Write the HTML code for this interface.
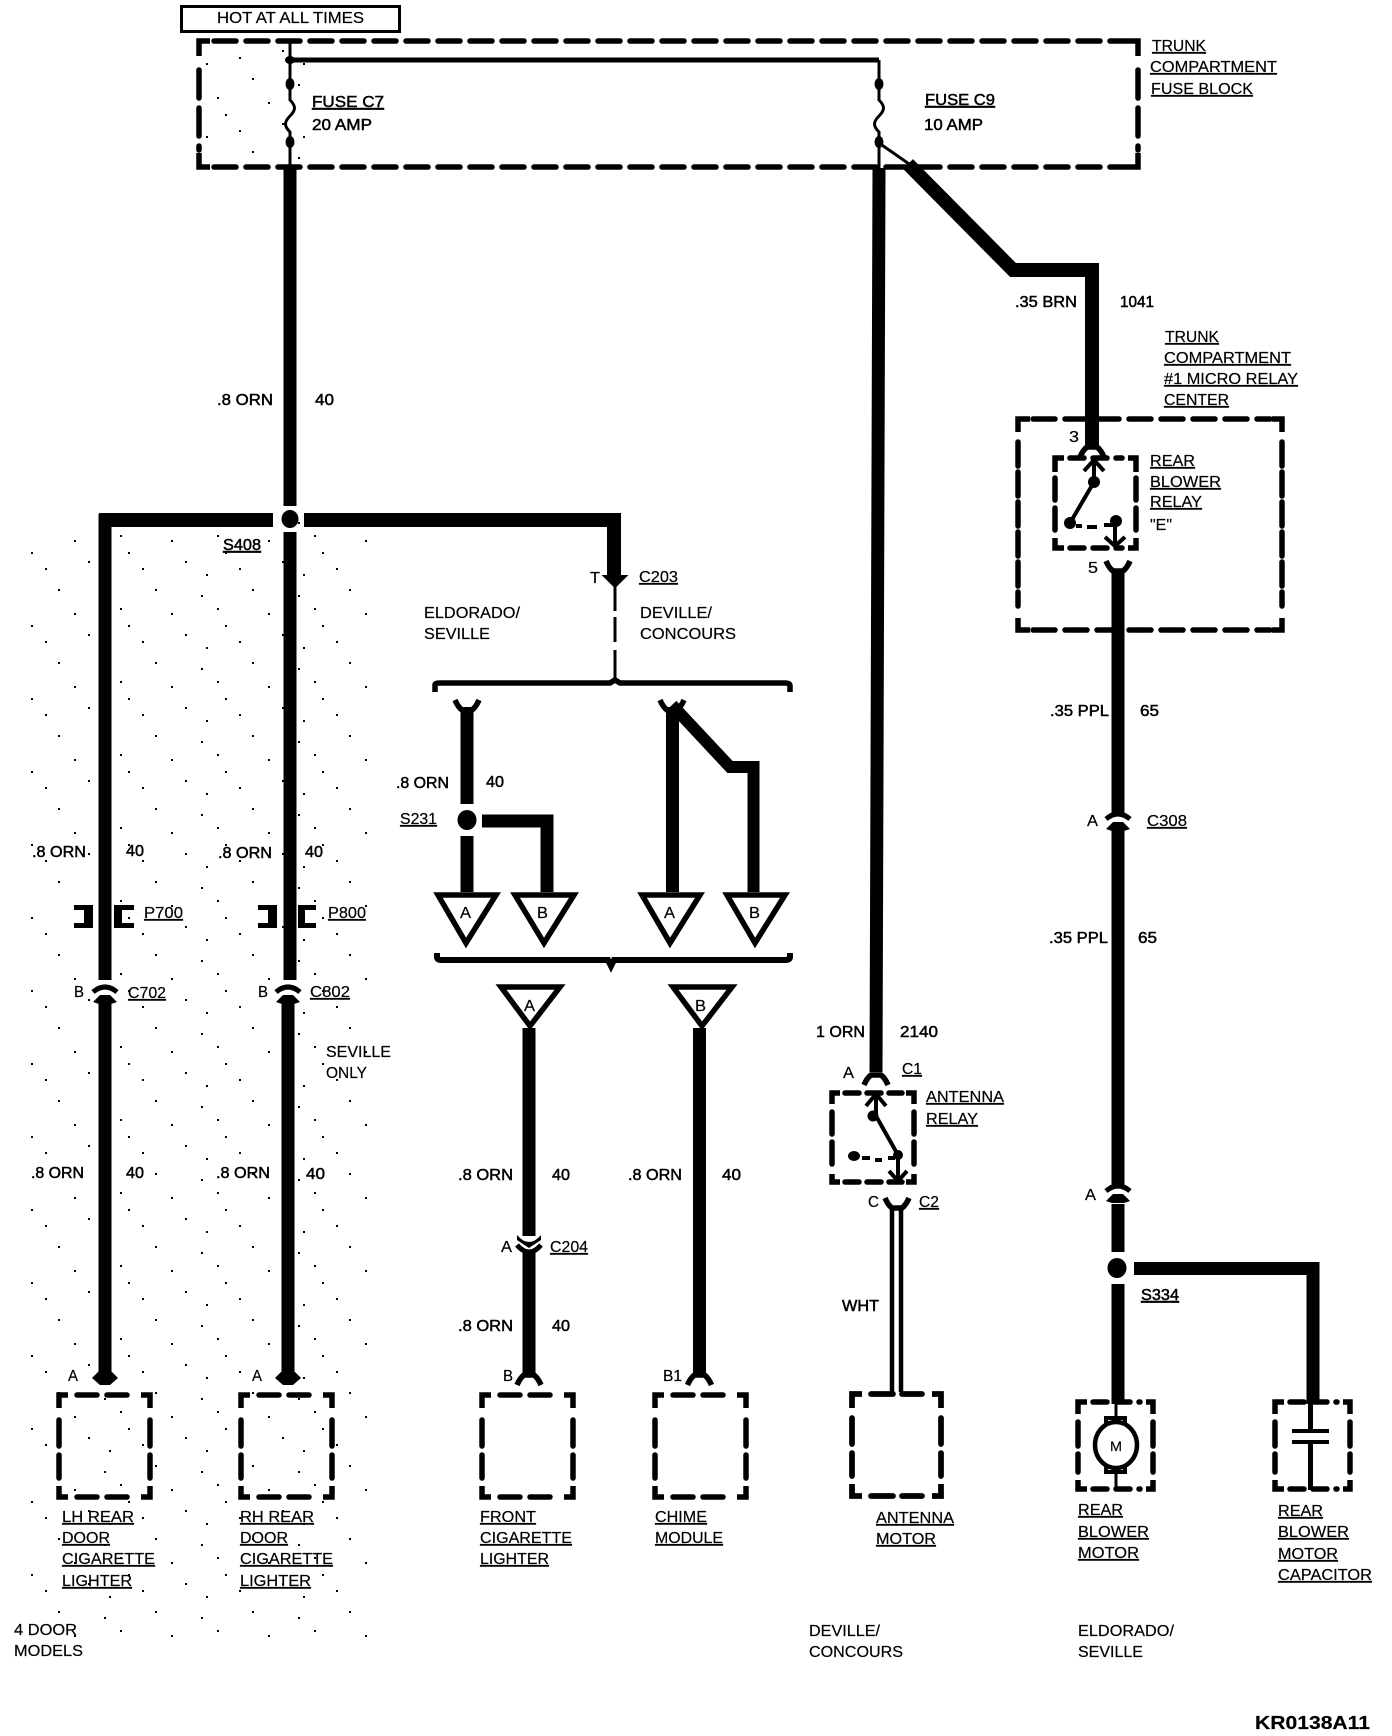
<!DOCTYPE html>
<html><head><meta charset="utf-8"><style>
html,body{margin:0;padding:0;background:#fff}
svg{display:block}
text{font-family:"Liberation Sans",sans-serif;font-size:16px;fill:#000;stroke:#000;stroke-width:.2px}
.u{text-decoration:underline}
.b{stroke:#000;stroke-width:.5px}
.w{fill:none;stroke:#000;stroke-width:13}
.n{fill:none;stroke:#000;stroke-width:3}
.d{fill:none;stroke:#000;stroke-width:5.500;stroke-dasharray:22 10;stroke-linecap:round}
.c{fill:none;stroke:#000;stroke-width:5.500}
.t{fill:#fff;stroke:#000;stroke-width:5.500;stroke-linejoin:miter}
</style></head><body>
<svg width="1392" height="1736" viewBox="0 0 1392 1736" xmlns="http://www.w3.org/2000/svg">
<defs>
<pattern id="sp" width="97" height="73" patternUnits="userSpaceOnUse"><path d="M7,11h2v2h-2z M31,41h2v2h-2z M58,5h2v2h-2z M74,29h2v2h-2z M12,63h2v2h-2z M45,57h2v2h-2z M88,50h2v2h-2z M23,24h2v2h-2z"/></pattern>
<path id="fd" d="M-12,7 Q-9,0 -5,-3 H5 Q9,0 12,7" fill="none" stroke="#000" stroke-width="5.500"/>
<path id="fu" d="M-12,-7 Q-9,0 -5,3 H5 Q9,0 12,-7" fill="none" stroke="#000" stroke-width="5.500"/>
<path id="ad" d="M-13,-1 L-6,-8 H6 L13,-1 L5,6 H-5 Z" fill="#000"/>
<g id="cu"><path d="M-12,-3 Q0,-13 12,-3" fill="none" stroke="#000" stroke-width="5"/><path d="M-12,7 L-5,0 H5 L12,7 L6,9 H-6 Z" fill="#000"/></g>
<g id="cv"><path d="M-12,-9 Q-6,-2 0,-2 Q6,-2 12,-9 L12,-4 L0,4 L-12,-4 Z" fill="#000"/><path d="M-12,1 Q-6,8 0,8 Q6,8 12,1" fill="none" stroke="#000" stroke-width="5"/></g>
</defs>
<rect width="1392" height="1736" fill="#fff"/>
<rect x="30" y="520" width="340" height="1120" fill="url(#sp)"/>
<rect x="205" y="46" width="110" height="115" fill="url(#sp)"/>

<!-- hot box -->
<rect x="181.500" y="6.500" width="218" height="25" fill="none" stroke="#000" stroke-width="3"/>
<text x="217" y="23" textLength="147" lengthAdjust="spacingAndGlyphs">HOT AT ALL TIMES</text>

<!-- wires -->
<path class="n" d="M290,41 V100 c6,6 6,10 0,16 c-6,6 -6,10 0,16 V168"/>
<path d="M290,60 H879" stroke="#000" stroke-width="5" fill="none"/>
<path class="n" d="M879,60 V100 c6,6 6,10 0,16 c-6,6 -6,10 0,16 V168"/>
<ellipse cx="290" cy="60" rx="5" ry="4"/><ellipse cx="290" cy="84" rx="4.500" ry="6"/><ellipse cx="290" cy="142" rx="4.500" ry="6"/>
<ellipse cx="879" cy="84" rx="4.500" ry="6"/><ellipse cx="879" cy="142" rx="4.500" ry="6"/>
<path class="n" d="M879,143 L912,166"/>
<path d="M908,164 L1013,270 H1092 V446" fill="none" stroke="#000" stroke-width="14" stroke-linejoin="miter"/>
<path class="w" d="M290,166 V506"/>
<path class="w" d="M290,532 V980 M288,1004 V1378"/>
<path class="w" d="M879,168 L876,1072"/>
<path class="w" style="stroke-width:14" d="M304,520 H614 V578"/>
<path class="w" style="stroke-width:14" d="M99,520 H273"/>
<path class="w" d="M105,514 V980 M105,1004 V1378"/>
<ellipse cx="290" cy="519" rx="8.500" ry="9"/>

<!-- fuse block -->
<path class="d" d="M214,41 H1125"/>
<path class="d" d="M214,167 H1125"/>
<path class="d" style="stroke-dasharray:28 10" d="M199,70 V150"/>
<path class="d" style="stroke-dasharray:28 10" d="M1138,70 V150"/>
<path class="c" d="M199,56 V41 H210 M1126,41 H1138 V56 M199,153 V167 H210 M1126,167 H1138 V153"/>
<text class="u" x="1152" y="51" textLength="54" lengthAdjust="spacingAndGlyphs">TRUNK</text>
<text class="u" x="1150" y="72" textLength="127" lengthAdjust="spacingAndGlyphs">COMPARTMENT</text>
<text class="u" x="1151" y="94" textLength="102" lengthAdjust="spacingAndGlyphs">FUSE BLOCK</text>
<text class="u b" x="312" y="107" textLength="72" lengthAdjust="spacingAndGlyphs">FUSE C7</text>
<text class="b" x="312" y="130" textLength="60" lengthAdjust="spacingAndGlyphs">20 AMP</text>
<text class="u b" x="925" y="105" textLength="70" lengthAdjust="spacingAndGlyphs">FUSE C9</text>
<text class="b" x="924" y="130" textLength="59" lengthAdjust="spacingAndGlyphs">10 AMP</text>

<text class="b" x="1015" y="307" textLength="62" lengthAdjust="spacingAndGlyphs">.35 BRN</text>
<text class="b" x="1120" y="307" textLength="34" lengthAdjust="spacingAndGlyphs">1041</text>
<text class="u" x="1165" y="342" textLength="54" lengthAdjust="spacingAndGlyphs">TRUNK</text>
<text class="u" x="1164" y="363" textLength="127" lengthAdjust="spacingAndGlyphs">COMPARTMENT</text>
<text class="u" x="1164" y="384" textLength="134" lengthAdjust="spacingAndGlyphs">#1 MICRO RELAY</text>
<text class="u" x="1164" y="405" textLength="65" lengthAdjust="spacingAndGlyphs">CENTER</text>
<text class="b" x="217" y="405" textLength="56" lengthAdjust="spacingAndGlyphs">.8 ORN</text>
<text class="b" x="315" y="405" textLength="19" lengthAdjust="spacingAndGlyphs">40</text>
<text class="u b" x="223" y="550" textLength="38" lengthAdjust="spacingAndGlyphs">S408</text>

<!-- micro relay center -->
<path class="d" d="M1033,419 H1270"/>
<path class="d" d="M1033,630 H1270"/>
<path class="d" style="stroke-dasharray:24 6" d="M1018,442 V606"/>
<path class="d" style="stroke-dasharray:24 6" d="M1282,442 V606"/>
<path class="c" d="M1018,432 V419 H1030 M1272,419 H1282 V432 M1018,618 V630 H1030 M1272,630 H1282 V618"/>
<use href="#fd" x="1092" y="450"/>
<text x="1069" y="442" textLength="10" lengthAdjust="spacingAndGlyphs">3</text>
<path class="d" style="stroke-dasharray:14 9" d="M1070,458 H1122"/>
<path class="d" style="stroke-dasharray:14 9" d="M1070,548 H1122"/>
<path class="d" style="stroke-dasharray:22 8" d="M1055,478 V530"/>
<path class="d" style="stroke-dasharray:22 8" d="M1136,478 V530"/>
<path class="c" d="M1055,472 V458 H1064 M1128,458 H1136 V472 M1055,538 V548 H1064 M1128,548 H1136 V538"/>
<path class="c" style="stroke-width:4" d="M1094,480 V460 M1084,471 L1094,460 L1104,471 M1094,482 L1070,523"/>
<circle cx="1094" cy="482" r="6"/><circle cx="1070" cy="523" r="6"/>
<path class="c" style="stroke-width:4" d="M1076,526 H1082 M1087,527 H1097 M1104,525 H1116"/>
<circle cx="1116" cy="521" r="6"/>
<path class="c" style="stroke-width:4" d="M1115,526 V546 M1105,537 L1115,546 L1125,537"/>
<text class="u" x="1150" y="466" textLength="45" lengthAdjust="spacingAndGlyphs">REAR</text>
<text class="u" x="1150" y="487" textLength="71" lengthAdjust="spacingAndGlyphs">BLOWER</text>
<text class="u" x="1150" y="507" textLength="52" lengthAdjust="spacingAndGlyphs">RELAY</text>
<text x="1150" y="530" textLength="22" lengthAdjust="spacingAndGlyphs">"E"</text>
<text x="1088" y="573" textLength="10" lengthAdjust="spacingAndGlyphs">5</text>
<use href="#fu" x="1118" y="568"/>
<path class="w" d="M1118,570 V814 M1118,830 V1186 M1118,1204 V1252 M1118,1284 V1404"/>
<path class="w" d="M1134,1268.500 H1313 V1404"/>
<ellipse cx="1117" cy="1268" rx="9.500" ry="10"/>
<use href="#cu" x="1118" y="822"/>
<use href="#cu" x="1118" y="1194"/>
<text class="b" x="1050" y="716" textLength="59" lengthAdjust="spacingAndGlyphs">.35 PPL</text>
<text class="b" x="1140" y="716" textLength="19" lengthAdjust="spacingAndGlyphs">65</text>
<text x="1087" y="826" textLength="11" lengthAdjust="spacingAndGlyphs">A</text>
<text class="u" x="1147" y="826" textLength="40" lengthAdjust="spacingAndGlyphs">C308</text>
<text class="b" x="1049" y="943" textLength="59" lengthAdjust="spacingAndGlyphs">.35 PPL</text>
<text class="b" x="1138" y="943" textLength="19" lengthAdjust="spacingAndGlyphs">65</text>
<text x="1085" y="1200" textLength="11" lengthAdjust="spacingAndGlyphs">A</text>
<text class="u b" x="1141" y="1300" textLength="38" lengthAdjust="spacingAndGlyphs">S334</text>

<!-- C203 and brace -->
<path d="M604,576 H626 L615,587 Z" fill="#000" stroke="#000" stroke-width="2"/>
<path class="c" style="stroke-width:3" d="M615,587 V611 M615,617 V642 M615,650 V680"/>
<text x="590" y="583" textLength="10" lengthAdjust="spacingAndGlyphs">T</text>
<text class="u" x="639" y="582" textLength="39" lengthAdjust="spacingAndGlyphs">C203</text>
<text x="424" y="618" textLength="96" lengthAdjust="spacingAndGlyphs">ELDORADO/</text>
<text x="424" y="639" textLength="66" lengthAdjust="spacingAndGlyphs">SEVILLE</text>
<text x="640" y="618" textLength="72" lengthAdjust="spacingAndGlyphs">DEVILLE/</text>
<text x="640" y="639" textLength="96" lengthAdjust="spacingAndGlyphs">CONCOURS</text>
<path class="c" d="M435,692 V685 Q435,683 440,683 H610 L615,680 L620,683 H785 Q790,683 790,686 V692"/>
<use href="#fu" x="467" y="707"/>
<path class="w" d="M467,707 V804 M467,836 V892"/>
<ellipse cx="467" cy="820" rx="9.500" ry="10"/>
<path class="w" d="M482,821 H547 V892"/>
<text class="b" x="396" y="788" textLength="53" lengthAdjust="spacingAndGlyphs">.8 ORN</text>
<text class="b" x="486" y="787" textLength="18" lengthAdjust="spacingAndGlyphs">40</text>
<text class="u" x="400" y="824" textLength="37" lengthAdjust="spacingAndGlyphs">S231</text>
<use href="#fu" x="672" y="707"/>
<path class="w" d="M672.500,707 V892"/>
<path d="M672,705 L730,767 H753.500 V892" fill="none" stroke="#000" stroke-width="12"/>
<path class="t" d="M438,895 H496 L466,943 Z"/><text x="460" y="918" textLength="11" lengthAdjust="spacingAndGlyphs">A</text>
<path class="t" d="M515,895 H574 L544,943 Z"/><text x="537" y="918" textLength="11" lengthAdjust="spacingAndGlyphs">B</text>
<path class="t" d="M642,895 H700 L670,943 Z"/><text x="664" y="918" textLength="11" lengthAdjust="spacingAndGlyphs">A</text>
<path class="t" d="M727,895 H785 L755,943 Z"/><text x="749" y="918" textLength="11" lengthAdjust="spacingAndGlyphs">B</text>
<path class="c" style="stroke-width:6" d="M437,953 V957 Q437,960 441,960 H608 L611,966 L614,960 H785 Q790,960 790,957 V953"/>
<path class="t" d="M501,987 H560 L530,1026 Z"/><text x="524" y="1011" textLength="11" lengthAdjust="spacingAndGlyphs">A</text>
<path class="t" d="M673,987 H732 L702,1026 Z"/><text x="695" y="1011" textLength="11" lengthAdjust="spacingAndGlyphs">B</text>
<path class="w" d="M529,1028 V1236 M529,1252 V1376"/>
<path class="w" d="M699.500,1028 V1376"/>
<use href="#cv" x="529" y="1244"/>
<use href="#fd" x="529" y="1378"/>
<use href="#fd" x="699.500" y="1378"/>
<text x="501" y="1252" textLength="11" lengthAdjust="spacingAndGlyphs">A</text>
<text class="u" x="550" y="1252" textLength="38" lengthAdjust="spacingAndGlyphs">C204</text>
<text class="b" x="458" y="1180" textLength="55" lengthAdjust="spacingAndGlyphs">.8 ORN</text>
<text class="b" x="552" y="1180" textLength="18" lengthAdjust="spacingAndGlyphs">40</text>
<text class="b" x="628" y="1180" textLength="54" lengthAdjust="spacingAndGlyphs">.8 ORN</text>
<text class="b" x="722" y="1180" textLength="19" lengthAdjust="spacingAndGlyphs">40</text>
<text class="b" x="458" y="1331" textLength="55" lengthAdjust="spacingAndGlyphs">.8 ORN</text>
<text class="b" x="552" y="1331" textLength="18" lengthAdjust="spacingAndGlyphs">40</text>
<text x="503" y="1381" textLength="10" lengthAdjust="spacingAndGlyphs">B</text>
<text x="663" y="1381" textLength="19" lengthAdjust="spacingAndGlyphs">B1</text>

<!-- left columns labels -->
<text class="b" x="32" y="857" textLength="54" lengthAdjust="spacingAndGlyphs">.8 ORN</text>
<text class="b" x="126" y="856" textLength="18" lengthAdjust="spacingAndGlyphs">40</text>
<text class="b" x="218" y="858" textLength="54" lengthAdjust="spacingAndGlyphs">.8 ORN</text>
<text class="b" x="305" y="857" textLength="18" lengthAdjust="spacingAndGlyphs">40</text>
<path d="M74,905 H93 V928 H74 V923 H84 V910 H74Z"/><path d="M134,905 H114 V928 H134 V923 H122 V910 H134Z"/>
<path d="M258,905 H277 V928 H258 V923 H268 V910 H258Z"/><path d="M316,905 H298 V928 H316 V923 H305 V910 H316Z"/>
<text class="u" x="144" y="918" textLength="39" lengthAdjust="spacingAndGlyphs">P700</text>
<text class="u" x="328" y="918" textLength="38" lengthAdjust="spacingAndGlyphs">P800</text>
<use href="#cu" x="105" y="995"/>
<use href="#cu" x="288" y="995"/>
<text x="74" y="997" textLength="10" lengthAdjust="spacingAndGlyphs">B</text>
<text class="u" x="128" y="998" textLength="38" lengthAdjust="spacingAndGlyphs">C702</text>
<text x="258" y="997" textLength="10" lengthAdjust="spacingAndGlyphs">B</text>
<text class="u" x="310" y="997" textLength="40" lengthAdjust="spacingAndGlyphs">C802</text>
<text x="326" y="1057" textLength="65" lengthAdjust="spacingAndGlyphs">SEVILLE</text>
<text x="326" y="1078" textLength="41" lengthAdjust="spacingAndGlyphs">ONLY</text>
<text class="b" x="31" y="1178" textLength="53" lengthAdjust="spacingAndGlyphs">.8 ORN</text>
<text class="b" x="126" y="1178" textLength="18" lengthAdjust="spacingAndGlyphs">40</text>
<text class="b" x="216" y="1178" textLength="54" lengthAdjust="spacingAndGlyphs">.8 ORN</text>
<text class="b" x="306" y="1179" textLength="19" lengthAdjust="spacingAndGlyphs">40</text>
<use href="#ad" x="105" y="1379"/><use href="#ad" x="288" y="1379"/>
<text x="68" y="1381" textLength="10" lengthAdjust="spacingAndGlyphs">A</text>
<text x="252" y="1381" textLength="10" lengthAdjust="spacingAndGlyphs">A</text>

<!-- component boxes -->
<g id="bx"><path class="d" style="stroke-dasharray:20 10" d="M77,1395 H136"/><path class="d" style="stroke-dasharray:20 10" d="M77,1497 H136"/><path class="d" style="stroke-dasharray:26 9" d="M59,1420 V1478"/><path class="d" style="stroke-dasharray:26 9" d="M150,1420 V1478"/><path class="c" d="M59,1408 V1395 H68 M141,1395 H150 V1408 M59,1486 V1497 H68 M141,1497 H150 V1486"/></g>
<use href="#bx" x="182"/><use href="#bx" x="423"/><use href="#bx" x="596"/>
<g id="bx2"><path class="d" style="stroke-dasharray:22 9" d="M871,1394 H922"/><path class="d" style="stroke-dasharray:22 9" d="M871,1496 H922"/><path class="d" style="stroke-dasharray:26 9" d="M852,1418 V1476"/><path class="d" style="stroke-dasharray:26 9" d="M941,1418 V1476"/><path class="c" d="M852,1408 V1394 H862 M932,1394 H941 V1408 M852,1484 V1496 H862 M932,1496 H941 V1484"/></g>

<!-- antenna relay -->
<use href="#fd" x="876" y="1078"/>
<path class="d" style="stroke-dasharray:14 8" d="M845,1093 H902"/><path class="d" style="stroke-dasharray:14 8" d="M845,1182 H902"/>
<path class="d" style="stroke-dasharray:22 8" d="M832,1112 V1166"/><path class="d" style="stroke-dasharray:22 8" d="M914,1112 V1166"/>
<path class="c" d="M832,1104 V1093 H840 M906,1093 H914 V1104 M832,1174 V1182 H840 M906,1182 H914 V1174"/>
<path class="c" style="stroke-width:4" d="M876,1116 V1094 M866,1106 L876,1094 L886,1106 M876,1116 L898,1155 V1180 M889,1171 L898,1181 L907,1171"/>
<circle cx="873" cy="1116" r="5.500"/><circle cx="898" cy="1155" r="5"/>
<ellipse cx="854" cy="1156" rx="6" ry="5"/>
<path class="c" style="stroke-width:4" d="M862,1158 H870 M875,1160 H882 M888,1158 H895"/>
<text x="843" y="1078" textLength="11" lengthAdjust="spacingAndGlyphs">A</text>
<text class="u" x="902" y="1074" textLength="20" lengthAdjust="spacingAndGlyphs">C1</text>
<text class="u" x="926" y="1102" textLength="78" lengthAdjust="spacingAndGlyphs">ANTENNA</text>
<text class="u" x="926" y="1124" textLength="52" lengthAdjust="spacingAndGlyphs">RELAY</text>
<text class="b" x="816" y="1037" textLength="49" lengthAdjust="spacingAndGlyphs">1 ORN</text>
<text class="b" x="900" y="1037" textLength="38" lengthAdjust="spacingAndGlyphs">2140</text>
<use href="#fu" x="897" y="1205"/>
<text x="868" y="1207" textLength="11" lengthAdjust="spacingAndGlyphs">C</text>
<text class="u" x="919" y="1207" textLength="20" lengthAdjust="spacingAndGlyphs">C2</text>
<path class="n" style="stroke-width:4.500" d="M892,1206 V1392 M901,1206 V1392"/>
<text class="b" x="842" y="1311" textLength="37" lengthAdjust="spacingAndGlyphs">WHT</text>
<use href="#bx2"/>
<text class="u" x="876" y="1523" textLength="78" lengthAdjust="spacingAndGlyphs">ANTENNA</text>
<text class="u" x="876" y="1544" textLength="60" lengthAdjust="spacingAndGlyphs">MOTOR</text>
<text x="809" y="1636" textLength="71" lengthAdjust="spacingAndGlyphs">DEVILLE/</text>
<text x="809" y="1657" textLength="94" lengthAdjust="spacingAndGlyphs">CONCOURS</text>

<!-- motor + capacitor -->
<g id="bx3"><path class="d" style="stroke-dasharray:14 9" d="M1093,1402 H1140"/><path class="d" style="stroke-dasharray:14 9" d="M1093,1489 H1140"/><path class="d" style="stroke-dasharray:24 8" d="M1078,1422 V1472"/><path class="d" style="stroke-dasharray:24 8" d="M1153,1422 V1472"/><path class="c" d="M1078,1414 V1402 H1087 M1146,1402 H1153 V1414 M1078,1480 V1489 H1087 M1146,1489 H1153 V1480"/></g>
<use href="#bx3" x="197"/>
<path class="n" d="M1116,1402 V1418 M1116,1472 V1490"/>
<path class="c" style="stroke-width:4" d="M1106,1424 V1418 H1125 V1424 M1106,1466 V1472 H1125 V1466"/>
<ellipse cx="1116" cy="1445" rx="21" ry="23" fill="#fff" stroke="#000" stroke-width="4.500"/>
<text x="1110" y="1451" textLength="12" lengthAdjust="spacingAndGlyphs" style="font-size:14px">M</text>
<path class="n" style="stroke-width:5" d="M1310.500,1402 V1430 M1310.500,1443 V1490"/>
<path class="n" style="stroke-width:4" d="M1292,1431 H1329 M1292,1442 H1329"/>
<text class="u" x="1078" y="1515" textLength="45" lengthAdjust="spacingAndGlyphs">REAR</text>
<text class="u" x="1078" y="1537" textLength="71" lengthAdjust="spacingAndGlyphs">BLOWER</text>
<text class="u" x="1078" y="1558" textLength="61" lengthAdjust="spacingAndGlyphs">MOTOR</text>
<text class="u" x="1278" y="1516" textLength="45" lengthAdjust="spacingAndGlyphs">REAR</text>
<text class="u" x="1278" y="1537" textLength="71" lengthAdjust="spacingAndGlyphs">BLOWER</text>
<text class="u" x="1278" y="1559" textLength="60" lengthAdjust="spacingAndGlyphs">MOTOR</text>
<text class="u" x="1278" y="1580" textLength="94" lengthAdjust="spacingAndGlyphs">CAPACITOR</text>
<text x="1078" y="1636" textLength="96" lengthAdjust="spacingAndGlyphs">ELDORADO/</text>
<text x="1078" y="1657" textLength="65" lengthAdjust="spacingAndGlyphs">SEVILLE</text>

<!-- bottom labels -->
<text class="u" x="62" y="1522" textLength="72" lengthAdjust="spacingAndGlyphs">LH REAR</text>
<text class="u" x="62" y="1543" textLength="48" lengthAdjust="spacingAndGlyphs">DOOR</text>
<text class="u" x="62" y="1564" textLength="93" lengthAdjust="spacingAndGlyphs">CIGARETTE</text>
<text class="u" x="62" y="1586" textLength="70" lengthAdjust="spacingAndGlyphs">LIGHTER</text>
<text class="u" x="240" y="1522" textLength="74" lengthAdjust="spacingAndGlyphs">RH REAR</text>
<text class="u" x="240" y="1543" textLength="48" lengthAdjust="spacingAndGlyphs">DOOR</text>
<text class="u" x="240" y="1564" textLength="93" lengthAdjust="spacingAndGlyphs">CIGARETTE</text>
<text class="u" x="240" y="1586" textLength="71" lengthAdjust="spacingAndGlyphs">LIGHTER</text>
<text class="u" x="480" y="1522" textLength="56" lengthAdjust="spacingAndGlyphs">FRONT</text>
<text class="u" x="480" y="1543" textLength="92" lengthAdjust="spacingAndGlyphs">CIGARETTE</text>
<text class="u" x="480" y="1564" textLength="69" lengthAdjust="spacingAndGlyphs">LIGHTER</text>
<text class="u" x="655" y="1522" textLength="52" lengthAdjust="spacingAndGlyphs">CHIME</text>
<text class="u" x="655" y="1543" textLength="68" lengthAdjust="spacingAndGlyphs">MODULE</text>
<text x="14" y="1635" textLength="63" lengthAdjust="spacingAndGlyphs">4 DOOR</text>
<text x="14" y="1656" textLength="69" lengthAdjust="spacingAndGlyphs">MODELS</text>
<text x="1255" y="1729" textLength="115" lengthAdjust="spacingAndGlyphs" style="font-weight:bold;font-size:18px">KR0138A11</text>
</svg>
</body></html>
